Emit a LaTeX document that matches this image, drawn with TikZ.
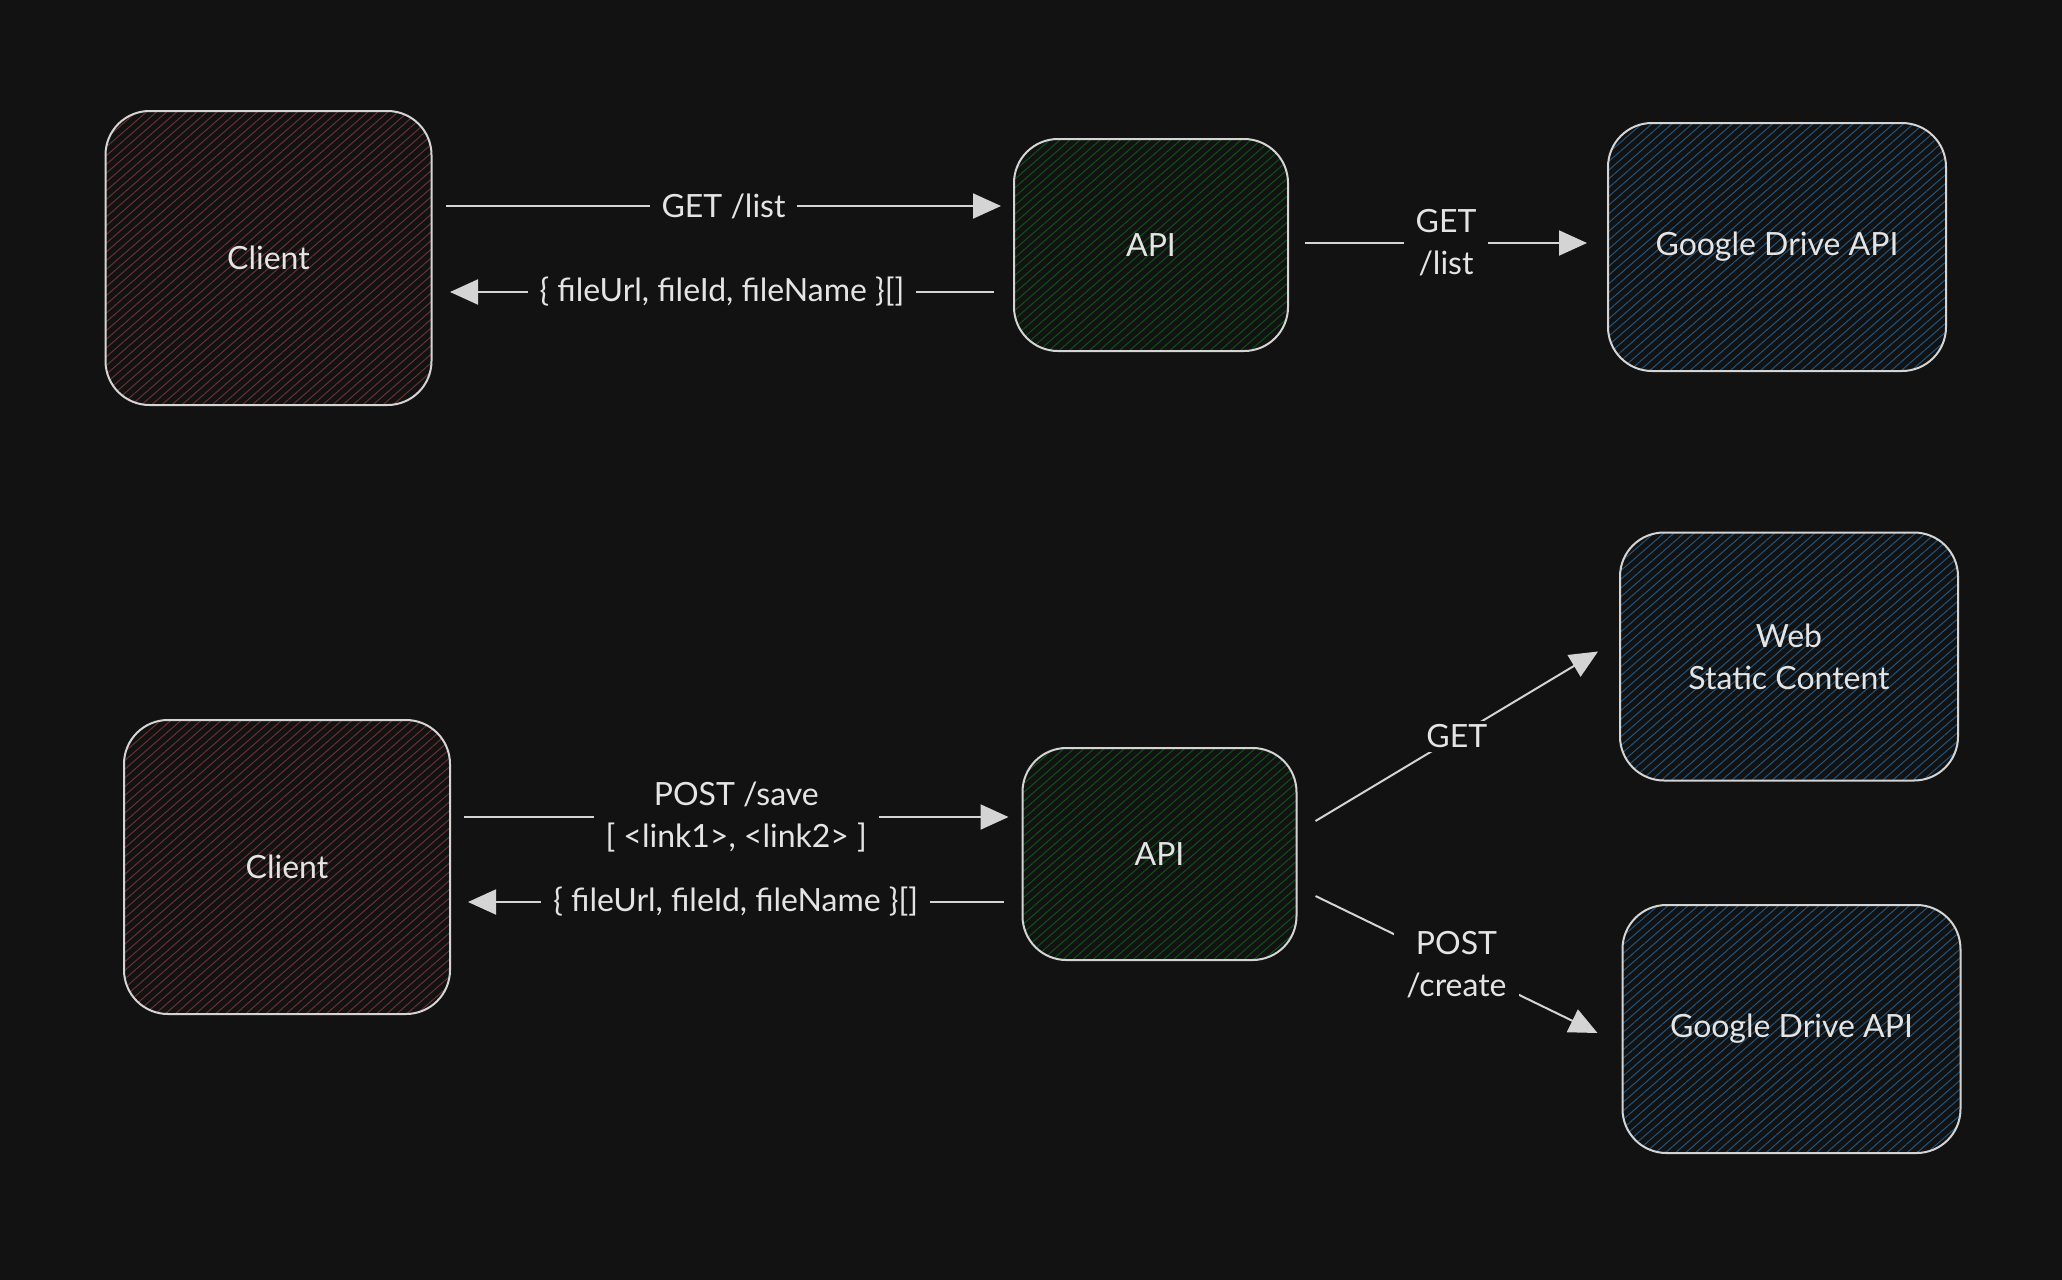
\documentclass[tikz,border=0pt]{standalone}
\usepackage{fontspec}
\setmainfont{Lato}
\usetikzlibrary{arrows.meta,patterns.meta}

\definecolor{bg}{HTML}{121212}
\definecolor{ink}{HTML}{D4D4D4}
\definecolor{txt}{HTML}{E4E4E4}
\definecolor{hatchred}{HTML}{6A3232}
\definecolor{hatchgreen}{HTML}{0E5219}
\definecolor{hatchblue}{HTML}{1F5580}

\tikzset{
  box/.style={draw=ink, line width=1pt, rounded corners=22pt, align=center,
    text=txt, font=\fontsize{16}{21}\selectfont},
  client/.style={box, minimum width=163pt, minimum height=147pt,
    pattern={Lines[angle=41,distance=3.3pt,line width=0.5pt]}, pattern color=hatchred},
  server/.style={box, minimum width=137pt, minimum height=106pt,
    pattern={Lines[angle=41,distance=3.3pt,line width=0.5pt]}, pattern color=hatchgreen},
  remote/.style={box, minimum width=169pt, minimum height=124pt,
    pattern={Lines[angle=41,distance=3.3pt,line width=0.5pt]}, pattern color=hatchblue},
  flow/.style={color=ink, line width=1pt, -{Triangle[length=14pt,width=12.5pt]}},
  lbl/.style={fill=bg, text=txt, align=center, inner xsep=6pt, inner ysep=2pt,
    font=\fontsize{16}{21}\selectfont},
}

\begin{document}
\begin{tikzpicture}[x=0.5pt, y=-0.5pt]
    \fill[bg] (0,0) rectangle (2062,1280);

    % list files
    \node[client] (client1) at (268.5,258) {Client};
    \node[server] (api1) at (1151,245) {API};
    \node[remote] (drive1) at (1777,247) {Google Drive API};

    \draw[flow] ([shift={(14,-52)}]client1.east) -- node[lbl] {GET /list} ([shift={(-12,-39)}]api1.west);
    \draw[flow] ([shift={(-19,47)}]api1.west) -- node[lbl] {\{ fileUrl, fileId, fileName \}[]} ([shift={(18,34)}]client1.east);
    \draw[flow] ([shift={(16,-2)}]api1.east) -- node[lbl] {GET\\/list} ([shift={(-20,-4)}]drive1.west);

    % save files
    \node[client] (client2) at (287,867) {Client};
    \node[server] (api2) at (1159.5,854) {API};
    \node[remote] (web) at (1789,656.5) {Web\\Static Content};
    \node[remote] (drive2) at (1791.5,1029) {Google Drive API};

    \draw[flow] ([shift={(13,-50)}]client2.east) -- node[lbl] {POST /save\\{[} <link1>, <link2> {]}} ([shift={(-13,-37)}]api2.west);
    \draw[flow] ([shift={(-18,48)}]api2.west) -- node[lbl] {\{ fileUrl, fileId, fileName \}[]} ([shift={(17,35)}]client2.east);
    \draw[flow] ([shift={(18,-33)}]api2.east) -- node[lbl] {GET} ([shift={(-21,-5)}]web.west);
    \draw[flow] ([shift={(18,42)}]api2.east) -- node[lbl] {POST\\/create} ([shift={(-24,4)}]drive2.west);
\end{tikzpicture}
\end{document}
